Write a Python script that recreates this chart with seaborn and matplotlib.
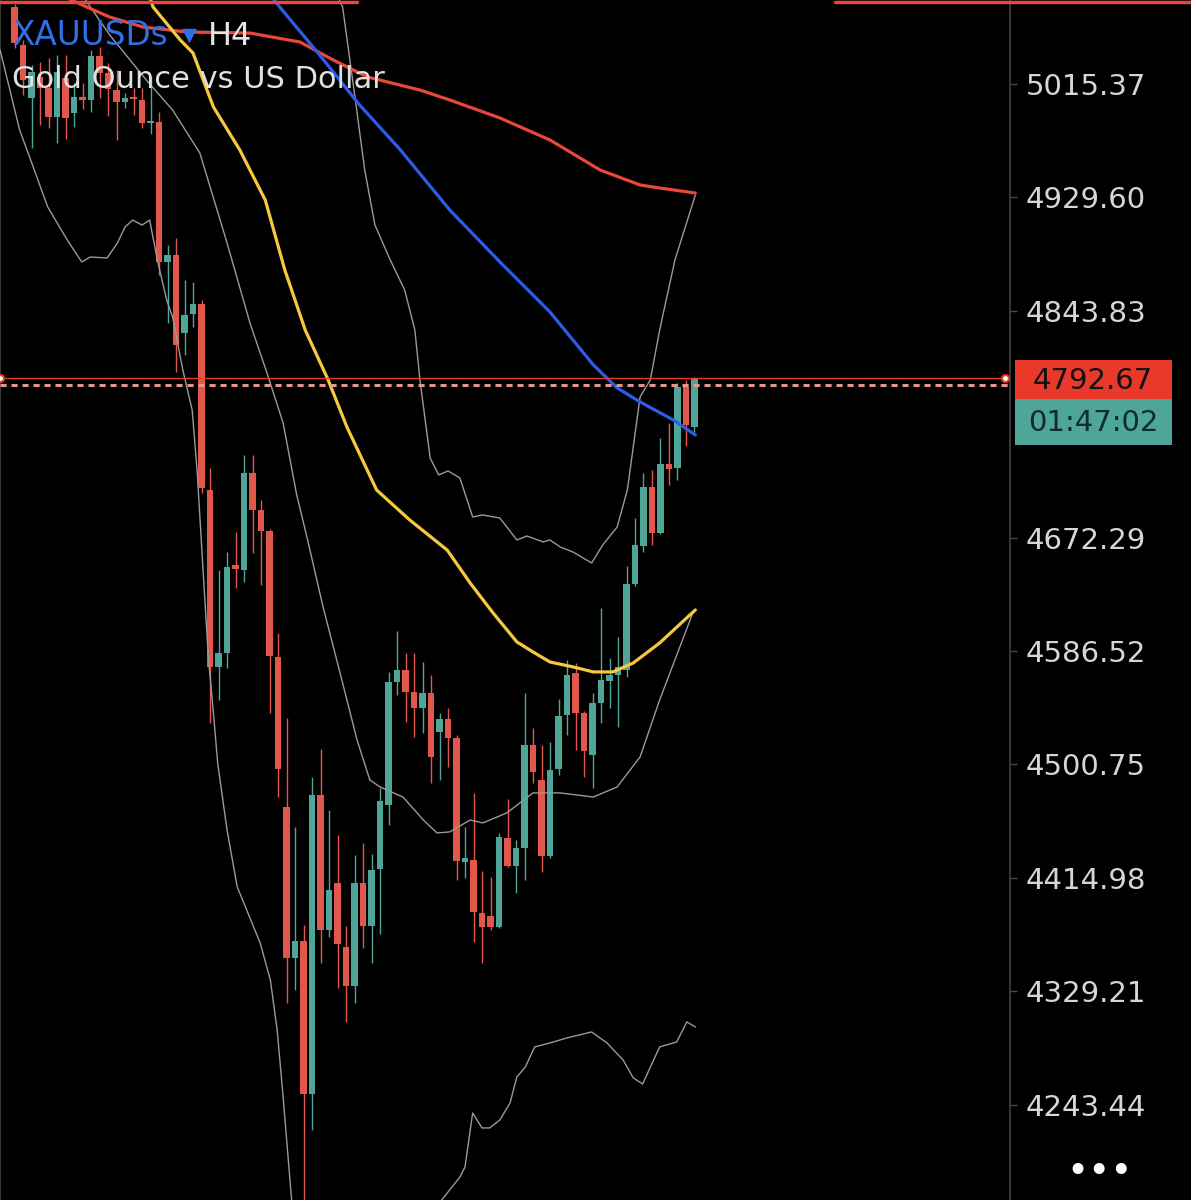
import matplotlib
matplotlib.use("Agg")
import matplotlib.pyplot as plt
import seaborn as sns
import pandas as pd
import numpy as np
from matplotlib.patches import Rectangle
from matplotlib.lines import Line2D

# XAUUSDs H4 candles
opens = [5073.6, 5044.9, 5004.8, 5020.7, 5012.3, 4990.4, 5019.9, 4993.4, 5005.5, 5003.3,
         5036.5, 5023.7, 5010.8, 5001.8, 5005.5, 5003.3, 4985.9, 4986.6, 4880.8, 4886.0,
         4827.1, 4841.4, 4849.0, 4708.3, 4574.5, 4585.0, 4651.6, 4647.8, 4721.2, 4693.2,
         4677.3, 4582.0, 4468.6, 4354.4, 4367.2, 4251.5, 4477.6, 4375.5, 4411.1, 4362.7,
         4333.2, 4411.1, 4378.6, 4421.7, 4470.1, 4563.1, 4572.2, 4555.5, 4543.4, 4554.8,
         4525.3, 4535.1, 4520.8, 4427.0, 4428.5, 4388.4, 4386.1, 4377.8, 4445.1, 4423.9,
         4437.6, 4515.5, 4489.0, 4431.5, 4497.3, 4538.2, 4569.9, 4539.7, 4507.9, 4547.2,
         4563.9, 4568.4, 4572.2, 4637.2, 4666.0, 4710.6, 4675.8, 4728.0, 4725.0, 4786.2,
         4756.0]
highs = [5076.0, 5048.6, 5029.7, 5032.0, 5035.0, 5037.3, 5037.3, 5016.1, 5016.1, 5041.1,
         5043.4, 5031.3, 5026.0, 5008.6, 5012.3, 5012.3, 5021.4, 4994.2, 4893.6, 4898.9,
         4867.1, 4865.6, 4852.0, 4725.0, 4647.8, 4661.4, 4676.6, 4734.8, 4734.8, 4700.8,
         4678.8, 4600.2, 4535.9, 4453.4, 4379.3, 4491.3, 4512.4, 4466.3, 4447.4, 4378.6,
         4432.3, 4441.3, 4433.0, 4483.0, 4570.7, 4601.7, 4585.0, 4585.0, 4578.2, 4568.4,
         4539.7, 4543.4, 4523.0, 4453.4, 4479.2, 4420.2, 4415.6, 4448.9, 4474.6, 4443.6,
         4554.8, 4528.3, 4515.5, 4517.7, 4550.3, 4579.7, 4577.5, 4541.2, 4554.8, 4619.1,
         4581.3, 4597.1, 4650.8, 4687.1, 4721.2, 4723.4, 4747.6, 4759.0, 4789.2, 4791.5,
         4794.0]
lows = [5042.6, 5007.1, 4967.0, 4984.4, 4982.1, 4970.7, 4973.8, 4982.8, 4996.5, 4994.2,
        5004.8, 4991.2, 4973.0, 4997.2, 4991.9, 4982.1, 4977.6, 4870.9, 4834.6, 4797.6,
        4810.4, 4831.6, 4706.0, 4532.1, 4549.5, 4573.7, 4634.2, 4638.7, 4660.7, 4636.5,
        4539.7, 4476.1, 4320.3, 4330.2, 4160.0, 4224.3, 4350.6, 4370.3, 4331.7, 4306.0,
        4320.3, 4361.9, 4350.6, 4372.5, 4455.0, 4553.3, 4532.9, 4521.5, 4524.5, 4486.7,
        4489.0, 4498.8, 4413.4, 4414.9, 4366.5, 4350.6, 4375.5, 4377.1, 4423.0, 4403.5,
        4413.4, 4486.7, 4419.4, 4430.0, 4492.8, 4523.0, 4511.7, 4491.3, 4483.0, 4532.1,
        4543.4, 4529.1, 4566.9, 4635.7, 4661.4, 4666.7, 4675.0, 4712.1, 4715.9, 4741.6,
        4749.9]
closes = [5046.4, 5018.4, 5024.4, 5012.3, 4990.4, 5024.4, 4989.7, 5005.5, 5003.3, 5036.5,
          5023.7, 5011.6, 5001.8, 5004.8, 5004.0, 4985.9, 4986.6, 4880.8, 4886.0, 4818.0,
          4840.7, 4849.0, 4709.8, 4574.5, 4585.0, 4650.1, 4648.6, 4721.2, 4693.2, 4677.3,
          4582.8, 4497.3, 4354.4, 4367.2, 4251.5, 4477.6, 4375.5, 4405.8, 4365.0, 4333.2,
          4411.1, 4378.6, 4420.9, 4473.1, 4563.1, 4572.2, 4555.5, 4543.4, 4554.8, 4506.4,
          4535.1, 4520.8, 4427.7, 4430.0, 4389.2, 4377.8, 4377.8, 4445.9, 4423.9, 4437.6,
          4515.5, 4495.0, 4431.5, 4496.5, 4537.4, 4568.4, 4539.7, 4510.9, 4547.2, 4564.6,
          4568.4, 4574.5, 4637.2, 4666.7, 4710.6, 4675.8, 4728.0, 4724.2, 4786.2, 4757.5,
          4792.67]

# indicator lines, sampled at bar positions
ma_red_bar = [5.4, 8.5, 11.2, 15.1, 20.3, 27.7, 33.6, 37.5, 41.5, 47.7, 51.2, 57.1, 63.0,
              68.9, 73.6, 75.9, 80.1]
ma_red_val = [5082.7, 5073.6, 5066.0, 5058.5, 5054.7, 5053.9, 5047.1, 5033.5, 5020.7, 5010.8,
              5003.3, 4989.7, 4973.0, 4950.3, 4939.0, 4936.7, 4932.9]
ma_blue_bar = [30.3, 31.2, 35.9, 40.6, 45.4, 51.2, 57.1, 63.0, 68.1, 70.9, 73.6, 77.5, 80.1]
ma_blue_val = [5081.2, 5073.6, 5037.3, 4999.5, 4965.5, 4920.1, 4880.8, 4842.9, 4802.9, 4785.5,
               4774.9, 4761.3, 4749.9]
ma_yellow_bar = [15.9, 16.3, 19.5, 21.0, 23.4, 26.5, 29.5, 31.8, 34.2, 36.9, 39.1, 42.6, 46.5,
                 50.9, 53.6, 56.3, 59.1, 61.0, 63.0, 65.7, 68.1, 70.4, 72.8, 75.9, 80.1]
ma_yellow_val = [5081.2, 5073.6, 5048.6, 5038.8, 4998.0, 4965.5, 4927.6, 4874.7, 4829.3, 4791.5,
                 4756.0, 4708.3, 4685.6, 4662.9, 4638.0, 4615.3, 4593.4, 4585.8, 4578.2, 4574.5,
                 4570.7, 4570.7, 4577.5, 4592.6, 4617.6]
bb_mid_bar = [8.2, 11.2, 15.7, 18.6, 21.8, 24.9, 27.7, 29.7, 31.6, 33.2, 34.4, 36.3, 38.3, 40.3,
              41.8, 43.0, 45.7, 48.1, 49.7, 51.2, 53.6, 55.1, 57.9, 61.0, 64.2, 68.1, 70.9,
              73.6, 75.9, 79.8]
bb_mid_val = [5080.4, 5052.4, 5016.9, 4995.7, 4963.2, 4897.4, 4834.6, 4796.8, 4759.0, 4704.5,
              4672.8, 4619.8, 4569.9, 4519.2, 4489.0, 4483.7, 4476.1, 4458.7, 4448.9, 4449.7,
              4458.7, 4456.5, 4464.0, 4479.2, 4479.2, 4476.1, 4483.7, 4506.4, 4549.5, 4615.3]
bb_up_bar = [38.1, 38.6, 40.1, 41.2, 42.4, 44.2, 45.9, 47.1, 47.7, 48.9, 49.9, 51.0, 52.4, 53.9,
             55.1, 57.1, 59.1, 60.3, 62.2, 63.0, 64.2, 65.7, 67.9, 69.2, 70.9, 72.1, 73.6,
             74.8, 75.9, 77.7, 80.1]
bb_up_val = [5080.4, 5073.6, 5003.3, 4950.3, 4908.7, 4882.3, 4859.6, 4829.3, 4791.5, 4732.5,
             4719.7, 4722.7, 4717.4, 4687.9, 4689.4, 4687.1, 4670.5, 4673.5, 4669.0, 4670.5,
             4665.2, 4661.4, 4653.1, 4666.7, 4680.3, 4708.3, 4778.7, 4791.5, 4829.3, 4882.3,
             4931.4]
bb_low_bar = [-1.7, 0.6, 2.2, 3.9, 6.2, 7.9, 8.9, 10.9, 12.1, 13.0, 13.9, 15.0, 15.9, 16.8,
              17.9, 18.6, 19.8, 20.9, 21.5, 22.2, 22.8, 23.4, 23.9, 25.0, 26.2, 28.9, 30.1,
              30.9, 31.6, 32.6, 37.1, 45.4, 49.8, 52.4, 53.0, 53.9, 55.0, 55.9, 57.1, 58.3,
              59.1, 60.1, 61.2, 63.0, 65.0, 67.9, 69.7, 71.6, 72.8, 73.9, 75.9, 77.9, 79.1, 80.1]
bb_low_val = [5041.1, 4980.6, 4952.6, 4922.4, 4897.4, 4880.8, 4884.5, 4883.8, 4895.1, 4907.2,
              4912.5, 4908.7, 4912.5, 4882.3, 4852.0, 4839.2, 4799.1, 4768.8, 4721.2, 4645.5,
              4582.0, 4539.7, 4501.8, 4451.2, 4408.1, 4365.7, 4337.7, 4299.9, 4249.2, 4171.3,
              4103.3, 4126.0, 4167.6, 4188.7, 4196.3, 4237.1, 4225.8, 4225.8, 4231.8, 4244.7,
              4264.4, 4271.9, 4287.1, 4290.1, 4293.9, 4298.4, 4290.1, 4277.2, 4263.6, 4259.1,
              4287.1, 4290.8, 4306.0, 4302.2]

price_ticks = [5015.37, 4929.60, 4843.83, 4672.29, 4586.52, 4500.75, 4414.98, 4329.21, 4243.44]
last_price = 4792.67
bid_price = 4787.7
countdown = "01:47:02"
symbol = "XAUUSDs"
timeframe = "H4"
description = "Gold Ounce vs US Dollar"

RED = "#e2574c"
TEAL = "#4fa597"

sns.set_theme(style="dark", rc={"axes.facecolor": "black", "figure.facecolor": "black"})
plt.rcParams["font.family"] = ["DejaVu Sans"]

W, H = 1191, 1200
fig = plt.figure(figsize=(W / 100, H / 100), dpi=100)
ax = fig.add_axes([0, 0, 1010 / W, 1])
ax.set_facecolor("black")

# candles
idx = np.arange(len(opens))
o = np.array(opens)
c = np.array(closes)
colors = np.where(c >= o, TEAL, RED)
ax.vlines(idx, lows, highs, colors=colors, linewidth=1.0, zorder=3)
body_low = np.minimum(o, c)
body_h = np.maximum(np.abs(c - o), 1.3)
ax.bar(idx, body_h, bottom=body_low, width=0.72, color=colors, linewidth=0, zorder=4)


def draw_line(bars, vals, color, lw):
    df = pd.DataFrame({"bar": bars, "price": vals})
    sns.lineplot(data=df, x="bar", y="price", ax=ax, color=color, linewidth=lw,
                 sort=False, estimator=None, zorder=5)


# bollinger bands
for b, v in [(bb_up_bar, bb_up_val), (bb_mid_bar, bb_mid_val), (bb_low_bar, bb_low_val)]:
    draw_line(b, v, "#9a9a9a", 1.0)
# moving averages
draw_line(ma_red_bar, ma_red_val, "#e8473b", 2.3)
draw_line(ma_blue_bar, ma_blue_val, "#2c5ce8", 2.3)
draw_line(ma_yellow_bar, ma_yellow_val, "#f5c83e", 2.3)

# current price lines
ax.axhline(last_price, color="#e8392a", linewidth=1.0, zorder=6)
ax.axhline(bid_price, color="#e3948b", linewidth=2.2, dashes=(2.0, 1.6), zorder=6)
ax.plot([0.0, 0.995], [last_price, last_price], transform=ax.get_yaxis_transform(),
        linestyle="none", marker="o", markersize=5, markerfacecolor="white",
        markeredgecolor="#e8392a", markeredgewidth=1.5, clip_on=False, zorder=7)

ax.set_xlim(-1.71, 117.12)
ax.set_ylim(4171.3, 5078.9)
ax.set_xticks([])
ax.set_xlabel("")
ax.set_ylabel("")
ax.grid(False)
ax.yaxis.tick_right()
ax.set_yticks(price_ticks)
ax.set_yticklabels([f"{t:.2f}" for t in price_ticks])
ax.tick_params(axis="y", labelcolor="#d6d6d6", labelsize=21, length=5, width=1,
               color="#4a4a4a", pad=6, direction="out")
for side in ["top", "bottom"]:
    ax.spines[side].set_visible(False)
for side in ["left", "right"]:
    ax.spines[side].set_visible(True)
    ax.spines[side].set_color("#3e3e3e")
    ax.spines[side].set_linewidth(1.3)


def fx(px):
    return px / W


def fy(py):
    return 1 - py / H


# price / countdown boxes
fig.add_artist(Rectangle((fx(1015), fy(400)), fx(157), 40 / H, transform=fig.transFigure,
                         facecolor="#e8392a", edgecolor="none"))
fig.add_artist(Rectangle((fx(1015), fy(445)), fx(157), 46 / H, transform=fig.transFigure,
                         facecolor="#4fa597", edgecolor="none"))
fig.text(fx(1093), fy(381), f"{last_price:.2f}", color="#111111", fontsize=21,
         ha="center", va="center")
fig.text(fx(1093), fy(423), countdown, color="#0d2f2b", fontsize=21, ha="center", va="center")

# header
fig.text(fx(12), fy(45), symbol, color="#3070e6", fontsize=23.5, va="baseline", zorder=10)
fig.text(fx(189), fy(35), "\u25bc", color="#3070e6", fontsize=14, ha="center", va="center",
         zorder=10)
fig.text(fx(208), fy(45), timeframe, color="#e6e6e6", fontsize=23, va="baseline", zorder=10)
fig.text(fx(12), fy(88), description, color="#e0e0e0", fontsize=22, va="baseline", zorder=10)

# top strips and menu dots
fig.add_artist(Line2D([0, fx(357)], [fy(1.5)] * 2, color="#e8473b", linewidth=2.5))
fig.add_artist(Line2D([fx(835), 1], [fy(1.5)] * 2, color="#e8473b", linewidth=2.5))
fig.text(fx(1100), fy(1173), "\u2022\u2022\u2022", color="white", fontsize=27,
         ha="center", va="center")

fig.savefig("out.png", dpi=100, facecolor="black")
